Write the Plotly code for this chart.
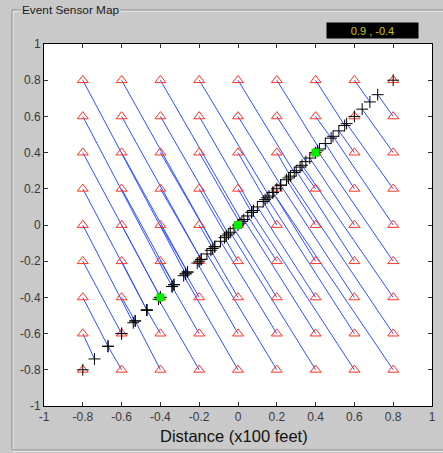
import plotly.graph_objects as go

# sensor grid positions
SENSOR_X = [-0.8, -0.6, -0.4, -0.2, 0.0, 0.2, 0.4, 0.6, 0.8]
SENSOR_Y = [0.8, 0.6, 0.4, 0.2, 0.0, -0.2, -0.4, -0.6, -0.8]

# estimated event position (on the diagonal) reported by each sensor;
# rows follow SENSOR_Y, columns follow SENSOR_X
EVENT_T = [
    [-0.27, -0.12, 0.02, 0.16, 0.29, 0.42, 0.55, 0.68, 0.80],
    [-0.34, -0.19, -0.05, 0.08, 0.22, 0.35, 0.48, 0.60, 0.72],
    [-0.40, -0.26, -0.12, 0.01, 0.14, 0.27, 0.40, 0.52, 0.64],
    [-0.47, -0.33, -0.19, -0.06, 0.07, 0.20, 0.32, 0.45, 0.56],
    [-0.54, -0.40, -0.26, -0.13, 0.00, 0.13, 0.25, 0.37, 0.49],
    [-0.60, -0.47, -0.33, -0.20, -0.07, 0.05, 0.18, 0.30, 0.41],
    [-0.67, -0.53, -0.40, -0.27, -0.14, -0.02, 0.10, 0.22, 0.33],
    [-0.74, -0.60, -0.47, -0.34, -0.21, -0.09, 0.03, 0.15, 0.26],
    [-0.80, -0.67, -0.53, -0.41, -0.28, -0.16, -0.04, 0.07, 0.18],
]

# highlighted reference points on the diagonal
GREEN_POS = [-0.4, 0.0, 0.4]

TICK_VALS = [-1, -0.8, -0.6, -0.4, -0.2, 0, 0.2, 0.4, 0.6, 0.8, 1]
TICK_TEXT = ["-1", "-0.8", "-0.6", "-0.4", "-0.2", "0", "0.2", "0.4", "0.6", "0.8", "1"]

READOUT = "0.9 , -0.4"
X_LABEL = "Distance (x100 feet)"
PANEL_TITLE = "Event Sensor Map"

BG = "#c9c9c9"

# build traces
sx, sy, ex, ey = [], [], [], []
lx, ly = [], []
for r, yv in enumerate(SENSOR_Y):
    for c, xv in enumerate(SENSOR_X):
        t = EVENT_T[r][c]
        sx.append(xv)
        sy.append(yv)
        ex.append(t)
        ey.append(t)
        lx += [xv, t, None]
        ly += [yv, t, None]

fig = go.Figure()
fig.add_trace(go.Scatter(x=lx, y=ly, mode="lines",
                         line=dict(color="#3050ff", width=1),
                         hoverinfo="skip", showlegend=False))
fig.add_trace(go.Scatter(x=sx, y=sy, mode="markers",
                         marker=dict(symbol="triangle-up-open", size=9.5,
                                     color="#ff3322", line=dict(width=1, color="#ff3322")),
                         showlegend=False))
fig.add_trace(go.Scatter(x=ex, y=ey, mode="markers",
                         marker=dict(symbol="cross-thin-open", size=8.5,
                                     color="black", line=dict(width=1, color="black")),
                         showlegend=False))
fig.add_trace(go.Scatter(x=GREEN_POS, y=GREEN_POS, mode="markers",
                         marker=dict(symbol="square", size=8, color="#00ee00",
                                     line=dict(width=0)),
                         showlegend=False))

W, H = 443, 453
L, R, T, B = 44, 11, 44, 47
PW, PH = W - L - R, H - T - B


def px2paper_x(px):
    return (px - L) / PW


def px2paper_y(py):
    return (H - B - py) / PH


axis_common = dict(range=[-1, 1], tickvals=TICK_VALS, ticktext=TICK_TEXT,
                   ticks="inside", ticklen=4, tickcolor="#333333", tickwidth=1,
                   showline=True, linecolor="black", linewidth=1, mirror="allticks",
                   showgrid=False, zeroline=False, automargin=False,
                   tickfont=dict(family="Liberation Sans, Arial, sans-serif", size=12, color="#3a3a3a"))

fig.update_layout(
    width=W, height=H, autosize=False,
    margin=dict(l=L, r=R, t=T, b=B, pad=0, autoexpand=False),
    paper_bgcolor=BG, plot_bgcolor="white",
    xaxis=dict(**axis_common),
    yaxis=dict(**axis_common),
)

# etched group box
shapes = []
box = dict(x0=12, y0=10, x1=450, y1=450)
shapes.append(dict(type="rect", xref="paper", yref="paper",
                   x0=px2paper_x(box["x0"] + 1), x1=px2paper_x(box["x1"] + 1),
                   y0=px2paper_y(box["y1"] + 1), y1=px2paper_y(box["y0"] + 1),
                   line=dict(color="white", width=1), layer="below"))
shapes.append(dict(type="rect", xref="paper", yref="paper",
                   x0=px2paper_x(box["x0"]), x1=px2paper_x(box["x1"]),
                   y0=px2paper_y(box["y1"]), y1=px2paper_y(box["y0"]),
                   line=dict(color="#8a8a8a", width=1), layer="below"))
fig.update_layout(shapes=shapes)

fig.add_annotation(xref="paper", yref="paper", x=px2paper_x(20), y=px2paper_y(10.5),
                   xanchor="left", yanchor="middle", showarrow=False,
                   text=PANEL_TITLE, bgcolor=BG, borderpad=1,
                   font=dict(family="Liberation Sans, Arial, sans-serif", size=11.8, color="#1a1a1a"))

fig.add_annotation(xref="paper", yref="paper", x=px2paper_x(372.5), y=px2paper_y(31),
                   xanchor="center", yanchor="middle", showarrow=False,
                   text=READOUT, bgcolor="black", width=91, height=15, borderpad=0,
                   font=dict(family="Liberation Sans, Arial, sans-serif", size=11, color="#c8c800"))

fig.add_annotation(xref="paper", yref="paper", x=px2paper_x(233.5), y=px2paper_y(436),
                   xanchor="center", yanchor="middle", showarrow=False,
                   text=X_LABEL,
                   font=dict(family="Liberation Sans, Arial, sans-serif", size=16.5, color="#111111"))

fig.write_html(
    "out.html",
    config={"displayModeBar": False},
    post_script="document.body.style.margin='0';document.body.style.overflow='hidden';"
                "document.body.style.background='" + BG + "';",
)
